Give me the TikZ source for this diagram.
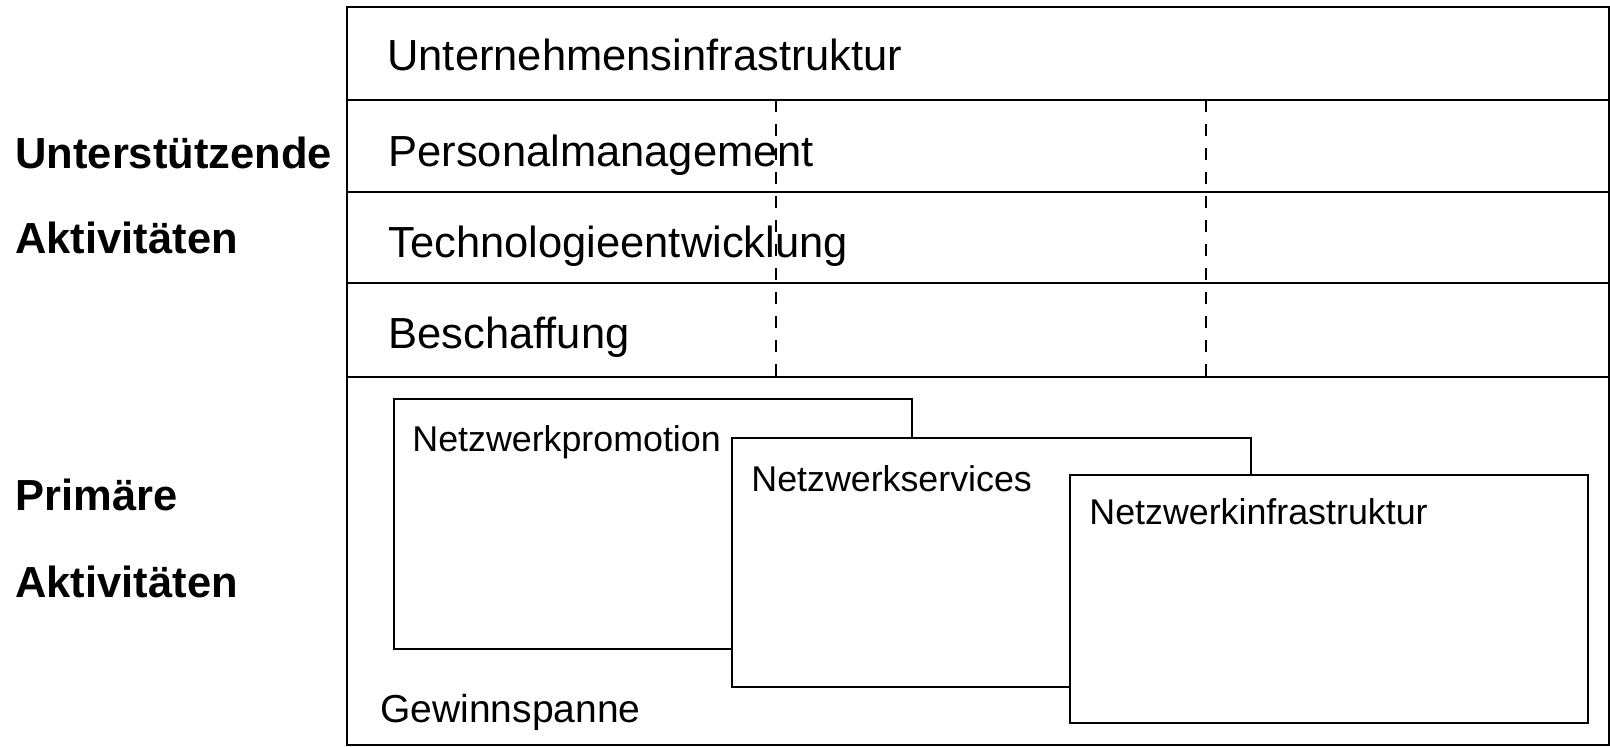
\documentclass[tikz,border=0pt]{standalone}
\usepackage{fontspec}
\setmainfont{Liberation Sans}
\begin{document}
\begin{tikzpicture}[x=0.5pt,y=-0.5pt,
  frame/.style={line width=1.3pt, draw=black},
  rowtxt/.style={anchor=base west, inner sep=0pt, font=\fontsize{21.75}{26}\selectfont},
  sidetxt/.style={anchor=base west, inner sep=0pt, font=\fontsize{21.75}{26}\selectfont\bfseries},
  boxtxt/.style={anchor=base west, inner sep=0pt, font=\fontsize{17.9}{22}\selectfont},
  gewtxt/.style={anchor=base west, inner sep=0pt, font=\fontsize{19.5}{23}\selectfont},
  actbox/.style={draw=black, fill=white, line width=1.3pt},
  sep/.style={dash pattern=on 6pt off 6pt, line width=1.3pt}]
\useasboundingbox (0,0) rectangle (1610,746);
\fill[white] (0,0) rectangle (1610,746);
% frame and rows
\draw[frame] (347,7) rectangle (1609,745);
\draw[frame] (347,100) -- (1609,100);
\draw[frame] (347,192) -- (1609,192);
\draw[frame] (347,283) -- (1609,283);
\draw[frame] (347,377) -- (1609,377);
% side labels
\node[sidetxt] (s1) at (15,168) {Unterstützende};
\node[sidetxt] (s2) at (15,253) {Aktivitäten};
\node[sidetxt] (p1) at (15,510) {Primäre};
\node[sidetxt] (p2) at (15,597) {Aktivitäten};
% support rows
\node[rowtxt] (r1) at (387,70) {Unternehmensinfrastruktur};
\node[rowtxt] (r2) at (388,166) {Personalmanagement};
\node[rowtxt] (r3) at (388,257) {Technologieentwicklung};
\node[rowtxt] (r4) at (388,348) {Beschaffung};
% dashed separators
\draw[sep] (776,100) -- (776,377);
\draw[sep] (1206,100) -- (1206,377);
% primary boxes
\draw[actbox] (394,399) rectangle (912,649);
\node[boxtxt] (b1) at (412,451) {Netzwerkpromotion};
\draw[actbox] (732,438) rectangle (1251,687);
\node[boxtxt] (b2) at (751,491) {Netzwerkservices};
\draw[actbox] (1070,475) rectangle (1588,723);
\node[boxtxt] (b3) at (1089,524) {Netzwerkinfrastruktur};
\node[gewtxt] (g) at (380,722) {Gewinnspanne};
\end{tikzpicture}
\end{document}
